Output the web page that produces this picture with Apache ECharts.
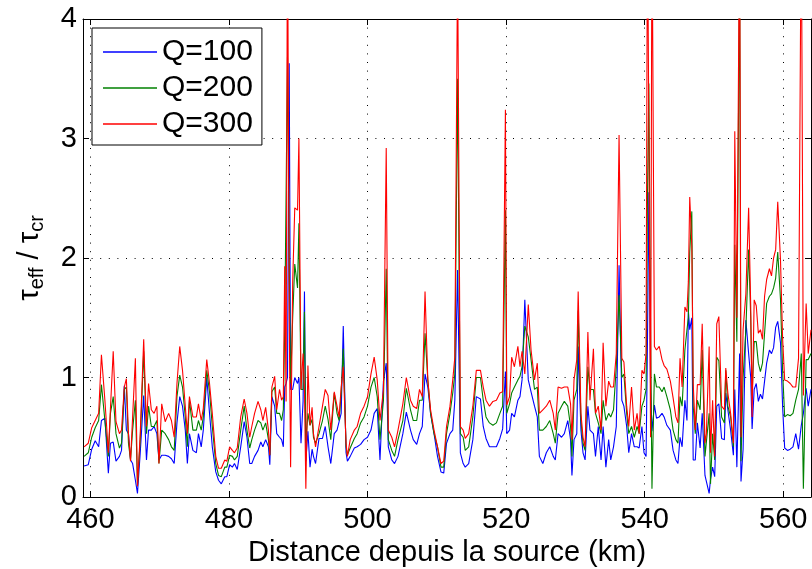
<!DOCTYPE html>
<html><head><meta charset="utf-8">
<script src="https://cdn.jsdelivr.net/npm/echarts@6/dist/echarts.min.js"></script>
<style>html,body{margin:0;padding:0;background:#fff}#c{width:812px;height:569px}</style>
</head><body><div id="c"></div>
<script>
// Distance depuis la source (km)
const distance = [
459.1,459.7,460.2,460.7,461.2,461.6,462.1,462.6,462.9,463.3,
463.7,464.2,464.5,464.9,465.2,465.5,465.8,466.1,466.5,466.8,
467.2,467.7,468.1,468.4,468.8,469.2,469.6,469.9,470.3,470.8,
471.3,471.7,472.1,472.5,472.9,473.3,473.7,474.0,474.3,474.8,
475.3,475.6,476.0,476.3,476.8,477.2,477.6,478.1,478.5,478.9,
479.4,479.7,480.1,480.5,480.8,481.2,481.7,482.2,482.6,483.0,
483.3,483.7,484.2,484.6,484.9,485.3,485.7,485.9,486.2,486.6,
486.9,487.3,487.6,487.85,488.05,488.25,488.45,488.7,488.9,489.2,
489.5,489.9,490.1,490.4,490.7,490.9,491.1,491.4,491.7,492.0,
492.2,492.5,493.0,493.5,493.9,494.3,494.7,495.2,495.6,495.9,
496.2,496.5,496.9,497.1,497.5,498.1,498.5,499.0,499.5,500.0,
500.5,500.96,501.4,501.8,502.3,502.7,503.0,503.5,503.9,504.4,
505.1,505.6,506.2,506.6,507.1,507.5,507.9,508.3,508.7,509.1,
509.6,510.1,510.6,511.0,511.4,511.9,512.3,512.6,513.0,513.4,
513.8,514.1,514.6,515.2,515.7,516.3,516.7,517.1,517.6,518.1,
518.6,519.1,519.5,519.9,520.1,520.5,520.8,521.2,521.7,522.0,
522.3,522.7,523.2,523.6,524.1,524.5,524.8,525.3,525.8,526.3,
526.8,527.1,527.5,528.0,528.4,528.9,529.3,529.5,529.8,530.2,
530.4,530.8,531.1,531.4,531.8,532.1,532.6,532.9,533.3,533.7,
534.0,534.4,534.8,535.1,535.5,535.9,536.3,536.7,537.0,537.4,
537.7,538.1,538.5,538.9,539.2,539.6,539.9,540.2,540.4,540.6,
540.85,541.05,541.4,541.7,542.1,542.5,542.8,543.2,543.7,544.1,
544.5,544.8,545.1,545.4,545.8,546.1,546.3,546.5,546.8,547.0,
547.3,547.6,548.0,548.3,548.7,548.9,549.3,549.5,549.8,550.1,
550.4,550.7,551.1,551.5,551.7,552.0,552.4,552.8,553.0,553.3,
553.7,553.9,554.2,554.6,555.0,555.3,555.5,555.8,556.1,556.4,
556.7,557.0,557.3,557.6,558.0,558.3,558.6,558.9,559.2,559.6,
559.9,560.2,560.6,561.0,561.4,561.8,562.2,562.6,562.9,563.3,
563.6,564.0
];
// Q=100 (blue)
const q100 = [
0.26,0.27,0.40,0.47,0.42,0.64,0.66,0.20,0.45,0.46,
0.30,0.34,0.39,0.93,0.56,0.53,0.31,0.28,0.14,0.03,
0.37,0.85,0.31,0.56,0.56,0.59,0.53,0.31,0.35,0.35,
0.34,0.32,0.28,0.62,0.84,0.76,0.56,0.28,0.53,0.39,
0.37,0.53,0.42,0.56,1.00,0.70,0.42,0.21,0.14,0.11,
0.17,0.17,0.27,0.25,0.28,0.23,0.42,0.63,0.50,0.28,
0.28,0.34,0.39,0.46,0.42,0.48,0.42,0.27,0.84,0.76,
0.53,0.50,0.48,0.42,0.92,0.95,1.00,3.63,0.90,0.90,
1.00,0.95,1.00,0.45,0.80,1.72,0.30,0.55,0.25,0.40,
0.34,0.28,0.49,0.49,0.59,0.42,0.28,0.53,0.56,0.63,
0.70,1.43,0.37,0.30,0.34,0.41,0.42,0.44,0.48,0.50,
0.56,0.70,0.74,0.31,0.97,1.12,0.42,0.31,0.28,0.34,
0.53,0.71,0.56,0.48,0.44,0.53,0.59,1.03,0.92,0.70,
0.53,0.34,0.21,0.20,0.45,0.53,0.56,0.81,1.90,0.37,
0.28,0.25,0.28,0.48,0.84,0.82,0.59,0.49,0.42,0.42,
0.42,0.49,0.57,1.05,0.53,0.56,0.70,0.67,0.81,0.84,
0.98,1.65,0.98,0.88,0.76,0.67,0.34,0.28,0.37,0.42,
0.34,0.31,0.53,0.50,0.53,0.64,0.48,0.18,0.48,0.53,
1.26,0.56,0.37,0.31,0.76,0.56,0.53,0.34,0.59,0.31,
0.59,0.25,0.48,0.31,0.42,0.59,1.94,0.81,0.76,0.59,
0.37,0.53,0.42,0.42,0.41,0.59,0.37,0.34,1.30,2.55,
0.90,0.55,0.77,0.66,0.67,0.70,0.67,0.60,0.56,0.39,
0.31,0.28,0.50,0.42,0.81,0.64,1.56,1.40,1.50,0.31,
0.31,0.62,0.41,0.70,0.18,0.17,0.03,0.15,0.25,0.17,
0.76,0.78,0.49,0.48,0.87,0.73,0.56,0.35,0.90,0.25,
1.20,0.13,0.40,1.48,1.20,1.00,0.57,0.90,0.95,0.80,
0.86,0.82,0.97,1.12,1.23,1.20,1.25,1.42,1.47,1.29,
0.76,0.41,0.39,0.40,0.42,0.53,0.40,0.60,0.70,0.91,
0.76,0.90
];
// Q=200 (green)
const q200 = [
0.34,0.37,0.50,0.58,0.64,0.94,0.64,0.34,0.70,0.84,
0.53,0.41,0.45,0.90,0.92,0.45,0.31,0.56,0.81,0.09,
0.48,1.22,0.53,0.76,0.59,0.59,0.64,0.28,0.56,0.53,
0.48,0.42,0.39,0.84,1.02,0.92,0.67,0.42,0.81,0.56,
0.56,0.64,0.56,0.67,1.06,0.88,0.59,0.28,0.18,0.17,
0.25,0.25,0.35,0.34,0.31,0.34,0.56,0.76,0.56,0.41,
0.48,0.56,0.64,0.62,0.56,0.62,0.48,0.35,0.88,0.92,
0.70,0.70,0.64,0.73,1.41,1.40,3.68,2.00,0.95,1.50,
1.95,1.75,2.29,0.90,0.90,1.55,0.45,0.70,0.60,0.65,
0.50,0.45,0.53,0.64,0.76,0.65,0.48,0.87,0.70,0.64,
0.87,1.24,0.42,0.35,0.41,0.49,0.53,0.62,0.67,0.76,
0.92,1.00,0.84,0.48,0.81,1.91,0.48,0.39,0.34,0.48,
0.64,0.91,0.73,0.64,0.64,0.81,0.81,1.37,0.98,0.70,
0.53,0.42,0.25,0.25,0.53,0.70,0.87,1.03,3.50,0.53,
0.50,0.39,0.42,0.67,1.00,1.00,0.81,0.67,0.62,0.60,
0.62,0.70,0.76,2.40,0.70,0.78,0.87,0.92,0.98,1.01,
1.09,1.43,1.34,1.15,0.90,0.92,0.56,0.56,0.59,0.64,
0.53,0.45,0.70,0.76,0.80,0.76,0.59,0.34,0.81,0.90,
1.56,0.64,0.45,0.39,1.09,0.90,0.90,0.70,0.62,0.53,
0.81,0.64,0.70,0.67,0.73,1.09,1.69,1.00,1.03,0.70,
0.53,0.59,0.50,0.59,0.53,0.76,0.81,0.90,2.50,3.46,
1.40,0.07,1.03,0.92,0.92,0.88,0.92,0.84,0.73,0.56,
0.48,0.45,0.84,0.76,1.23,1.40,1.50,2.05,2.39,0.76,
0.53,0.81,0.73,1.23,0.34,0.34,0.70,0.11,0.53,0.31,
1.17,1.14,0.67,0.62,1.06,0.76,0.67,0.42,2.11,1.30,
4.50,0.30,1.00,1.40,2.07,1.50,0.85,1.30,1.30,1.12,
1.05,1.12,1.37,1.62,1.68,1.70,1.75,1.83,2.05,1.65,
1.06,0.67,0.69,0.68,0.70,0.81,0.90,1.20,0.07,1.15,
1.15,1.20
];
// Q=300 (red)
const q300 = [
0.42,0.45,0.58,0.64,0.70,1.19,0.81,0.37,0.74,1.22,
0.63,0.53,0.56,0.92,0.99,0.53,0.30,0.67,1.16,0.09,
0.53,1.32,0.59,0.95,0.73,0.70,0.76,0.28,0.78,0.63,
0.70,0.64,0.50,0.95,1.26,1.06,0.76,0.53,0.84,0.67,
0.67,0.78,0.64,0.74,1.15,0.95,0.70,0.34,0.24,0.24,
0.31,0.30,0.42,0.39,0.37,0.41,0.67,0.82,0.70,0.50,
0.59,0.70,0.80,0.73,0.64,0.75,0.56,0.35,0.92,1.01,
0.73,0.90,0.81,0.84,1.93,0.80,5.00,1.50,0.25,1.80,
2.42,2.40,3.00,0.90,1.20,0.90,0.07,1.10,0.60,0.75,
0.53,0.42,0.59,0.76,0.90,0.85,0.56,0.88,0.76,0.67,
0.92,1.09,0.45,0.34,0.48,0.56,0.59,0.70,0.76,0.84,
1.03,1.17,0.98,0.64,0.90,2.92,0.56,0.50,0.42,0.56,
0.78,1.00,0.81,0.76,0.74,0.90,0.84,1.72,0.98,0.73,
0.56,0.42,0.28,0.30,0.59,0.76,0.98,1.17,4.50,0.59,
0.56,0.49,0.53,0.76,1.06,1.06,0.92,0.81,0.76,0.80,
0.81,0.87,0.88,3.24,0.77,0.84,1.17,1.09,1.26,1.09,
1.22,1.03,1.61,1.23,0.98,1.12,0.70,0.73,0.76,0.81,
0.70,0.56,0.92,0.91,0.92,0.92,0.78,0.48,0.98,1.15,
1.72,0.70,0.50,0.42,1.38,0.81,1.24,0.70,0.76,0.56,
1.29,0.76,0.97,0.92,0.92,1.20,3.03,1.16,1.13,0.76,
0.59,0.92,0.56,0.70,0.53,1.06,1.03,1.20,5.00,5.00,
0.50,5.00,1.26,1.23,1.26,1.15,1.10,1.07,0.97,0.83,
0.67,0.62,1.16,0.92,1.59,1.55,1.80,2.51,2.10,0.95,
0.56,0.94,0.94,1.45,0.45,0.53,1.26,0.37,0.81,0.34,
1.45,1.51,0.76,0.73,1.08,0.87,0.70,0.45,3.06,1.50,
5.00,0.50,1.40,1.70,2.42,1.60,0.67,1.65,1.60,1.37,
1.40,1.32,1.68,1.82,1.91,1.85,2.00,2.07,2.47,1.98,
1.33,0.98,0.97,0.95,0.92,0.92,1.16,5.00,0.85,1.62,
1.20,1.40
];
const seriesNames = ['Q=100', 'Q=200', 'Q=300'];
const seriesColors = ['#0000ff', '#008000', '#ff0000'];
const xLabel = 'Distance depuis la source (km)';
const xRange = [458.94, 564.0];
const yRange = [0, 4];

const FONT = 'Liberation Sans, Arial, Helvetica, sans-serif';
const chart = echarts.init(document.getElementById('c'), null, {renderer: 'canvas'});
const gridLine = {show: true, lineStyle: {color: '#000', width: 1, type: [1, 7.6]}};
const tickIn = {show: true, inside: true, length: 6, lineStyle: {color: '#000', width: 1}};
const axLine = {show: true, onZero: false, lineStyle: {color: '#000', width: 1}};
const xCommon = {type: 'value', min: xRange[0], max: xRange[1], minInterval: 20, maxInterval: 20, splitNumber: 5, axisLine: axLine, axisTick: tickIn};
const yCommon = {type: 'value', min: yRange[0], max: yRange[1], interval: 1, axisLine: axLine, axisTick: tickIn};

const data = [q100, q200, q300];
chart.setOption({
  animation: false,
  backgroundColor: '#fff',
  textStyle: {fontFamily: FONT},
  grid: {left: 83, right: 1, top: 19, bottom: 72, containLabel: false, outerBoundsMode: 'none'},
  legend: {
    show: true, selectedMode: false, orient: 'vertical', left: 92, top: 28,
    backgroundColor: '#fff', borderColor: '#000', borderWidth: 1,
    padding: [9, 9, 6, 11], itemGap: 6, itemWidth: 54, itemHeight: 1.4, icon: 'rect',
    textStyle: {fontSize: 30, color: '#000', fontFamily: FONT, lineHeight: 30},
    data: seriesNames
  },
  xAxis: [
    Object.assign({}, xCommon, {
      position: 'bottom', name: xLabel, nameLocation: 'middle', nameGap: 40,
      nameTextStyle: {fontSize: 29, color: '#000', fontFamily: FONT},
      axisLabel: {show: true, fontSize: 29, color: '#000', margin: 8, fontFamily: FONT, showMinLabel: false, showMaxLabel: false},
      splitLine: gridLine
    }),
    Object.assign({}, xCommon, {position: 'top', axisLabel: {show: false}, splitLine: {show: false}})
  ],
  yAxis: [
    Object.assign({}, yCommon, {
      position: 'left', name: '{m|τ}{s|eff}{m| / τ}{s|cr}', nameLocation: 'middle', nameGap: 36, nameRotate: 90,
      nameTextStyle: {color: '#000', rich: {
        m: {fontSize: 29, fontFamily: FONT, color: '#000'},
        s: {fontSize: 20, fontFamily: FONT, color: '#000', padding: [14, 0, 0, 0]}
      }},
      axisLabel: {show: true, fontSize: 29, color: '#000', margin: 6, fontFamily: FONT},
      splitLine: gridLine
    }),
    Object.assign({}, yCommon, {position: 'right', axisLabel: {show: false}, splitLine: {show: false}})
  ],
  series: seriesNames.map((n, k) => ({
    name: n, type: 'line', xAxisIndex: 0, yAxisIndex: 0,
    showSymbol: false, symbol: 'none', clip: true,
    color: seriesColors[k],
    lineStyle: {color: seriesColors[k], width: 1.1},
    data: distance.map((d, i) => [d, data[k][i]])
  }))
});
</script></body></html>
